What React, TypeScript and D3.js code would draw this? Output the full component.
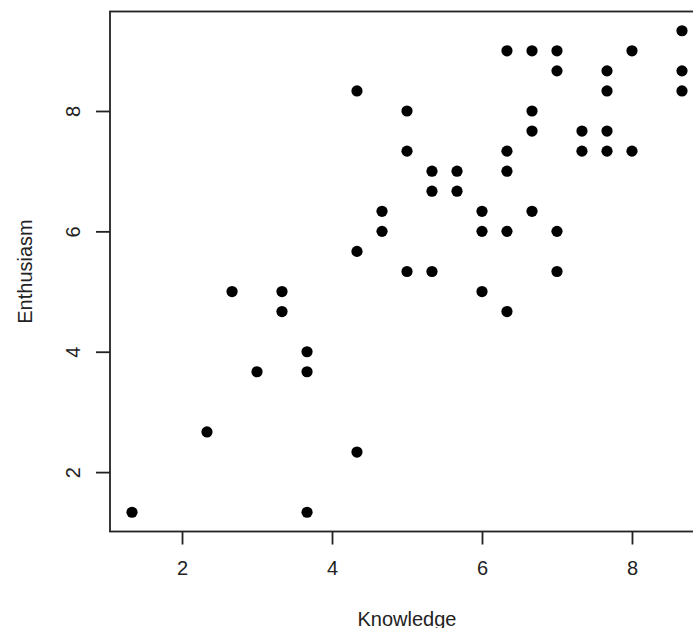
import { useRef, useEffect } from 'react';
import * as d3 from 'd3';

// Knowledge (x) and Enthusiasm (y) scores
const knowledge = [
  1.333, 2.333, 2.667, 3, 3.333, 3.333, 3.667, 3.667, 3.667,
  4.333, 4.333, 4.333, 4.667, 4.667, 5, 5, 5, 5.333, 5.333, 5.333,
  5.667, 5.667, 6, 6, 6, 6.333, 6.333, 6.333, 6.333, 6.333,
  6.667, 6.667, 6.667, 6.667, 7, 7, 7, 7, 7.333, 7.333,
  7.667, 7.667, 7.667, 7.667, 8, 8, 8.667, 8.667, 8.667,
];
const enthusiasm = [
  1.333, 2.667, 5, 3.667, 5, 4.667, 4, 3.667, 1.333,
  8.333, 5.667, 2.333, 6.333, 6, 8, 7.333, 5.333, 7, 6.667, 5.333,
  7, 6.667, 6.333, 6, 5, 9, 7.333, 7, 6, 4.667,
  9, 8, 7.667, 6.333, 9, 8.667, 6, 5.333, 7.667, 7.333,
  8.667, 8.333, 7.667, 7.333, 9, 7.333, 9.333, 8.667, 8.333,
];
const xTicks = [2, 4, 6, 8];
const yTicks = [2, 4, 6, 8];
const xTitle = 'Knowledge';
const yTitle = 'Enthusiasm';

const W = 693;
const H = 628;
const FONT = '"Liberation Sans", Arial, Helvetica, sans-serif';
const INK = '#222';

export default function App() {
  const svgRef = useRef<SVGSVGElement>(null);

  useEffect(() => {
    const svg = d3.select(svgRef.current);
    svg.selectAll('*').remove();

    // R style 4% padding around the data range
    const xExt = d3.extent(knowledge) as [number, number];
    const yExt = d3.extent(enthusiasm) as [number, number];
    const xPad = (xExt[1] - xExt[0]) * 0.04;
    const yPad = (yExt[1] - yExt[0]) * 0.04;

    const x = d3.scaleLinear().domain([xExt[0] - xPad, xExt[1] + xPad]).range([110, 704]);
    const y = d3.scaleLinear().domain([yExt[0] - yPad, yExt[1] + yPad]).range([531.5, 11.5]);

    const [x0, x1] = x.range();
    const [y0, y1] = y.range();

    // plot box
    svg.append('rect')
      .attr('x', x0)
      .attr('y', y1)
      .attr('width', x1 - x0)
      .attr('height', y0 - y1)
      .attr('fill', 'none')
      .attr('stroke', INK)
      .attr('stroke-width', 1.8);

    // x axis
    const gx = svg.append('g')
      .attr('transform', `translate(0,${y0})`)
      .call(d3.axisBottom(x).tickValues(xTicks).tickSize(13).tickFormat(d3.format('d')));
    gx.select('.domain').remove();
    gx.selectAll('line').attr('stroke', INK).attr('stroke-width', 1.8);
    gx.selectAll('text')
      .attr('y', 43)
      .attr('dy', null)
      .attr('fill', INK)
      .attr('font-family', FONT)
      .attr('font-size', 20);

    // y axis, labels rotated like R's las = 0
    const gy = svg.append('g')
      .attr('transform', `translate(${x0},0)`)
      .call(d3.axisLeft(y).tickValues(yTicks).tickSize(14).tickFormat(d3.format('d')));
    gy.select('.domain').remove();
    gy.selectAll('line').attr('stroke', INK).attr('stroke-width', 1.8);
    gy.selectAll('text')
      .attr('x', null)
      .attr('dy', null)
      .attr('transform', 'translate(-30,0) rotate(-90)')
      .attr('text-anchor', 'middle')
      .attr('fill', INK)
      .attr('font-family', FONT)
      .attr('font-size', 20);

    // points
    svg.append('g')
      .selectAll('circle')
      .data(knowledge.map((k, i) => [k, enthusiasm[i]]))
      .join('circle')
      .attr('cx', (d) => x(d[0]))
      .attr('cy', (d) => y(d[1]))
      .attr('r', 5.6)
      .attr('fill', '#000');

    // axis titles
    svg.append('text')
      .attr('x', (x0 + x1) / 2)
      .attr('y', 626)
      .attr('text-anchor', 'middle')
      .attr('fill', INK)
      .attr('font-family', FONT)
      .attr('font-size', 20)
      .text(xTitle);

    svg.append('text')
      .attr('transform', `translate(32,${(y0 + y1) / 2}) rotate(-90)`)
      .attr('text-anchor', 'middle')
      .attr('fill', INK)
      .attr('font-family', FONT)
      .attr('font-size', 20)
      .text(yTitle);
  }, []);

  return (
    <svg
      ref={svgRef}
      width={W}
      height={H}
      style={{ position: 'absolute', left: 0, top: 0, background: '#fff' }}
    />
  );
}
